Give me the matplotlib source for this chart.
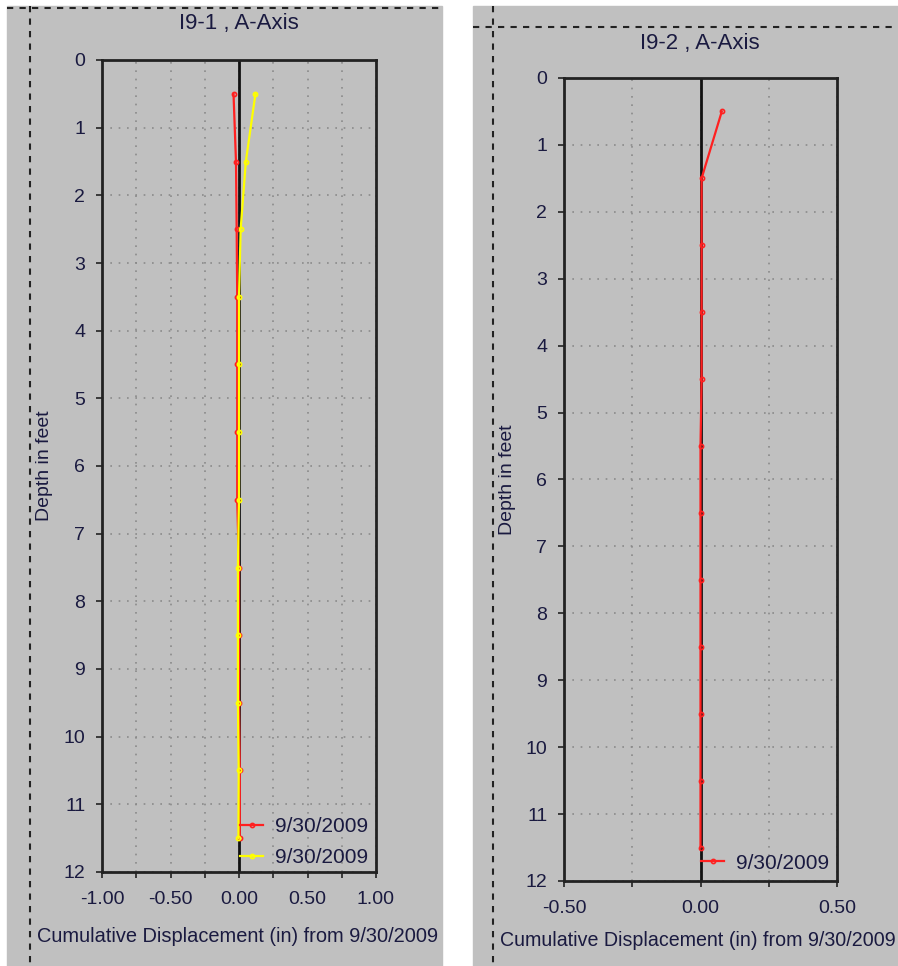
import matplotlib
matplotlib.use("Agg")
import matplotlib.pyplot as plt
from matplotlib.patches import Rectangle
from matplotlib.lines import Line2D

plt.rcParams['font.family'] = ['Liberation Sans', 'DejaVu Sans']

# data
depths = [0.5, 1.5, 2.5, 3.5, 4.5, 5.5, 6.5, 7.5, 8.5, 9.5, 10.5, 11.5]
i91_red = [-0.04, -0.022, -0.017, -0.013, -0.013, -0.013, -0.013, 0.0, 0.0, 0.0, 0.006, 0.006]
i91_yellow = [0.12, 0.05, 0.012, 0.0, 0.0, 0.0, 0.0, -0.008, -0.008, -0.008, -0.002, -0.004]
i92_red = [0.078, 0.004, 0.004, 0.004, 0.004, 0.0, 0.0, 0.0, 0.0, 0.0, 0.0, 0.0]
legend_date = "9/30/2009"
xlabel = "Cumulative Displacement (in) from 9/30/2009"

W, H = 898, 966
fig = plt.figure(figsize=(W / 100, H / 100), dpi=100)
fig.patch.set_facecolor("white")
FS = 14
TXT = "#1a1a40"


def fx(px):
    return px / W


def fy(py):
    return 1 - py / H


def panel(x0, x1, y0, hy, vx):
    fig.patches.append(Rectangle((fx(x0), 0), fx(x1 - x0), fy(y0),
                                 transform=fig.transFigure, color="#c0c0c0", zorder=-10))
    fig.lines.append(Line2D([fx(x0), fx(x1)], [fy(hy), fy(hy)], transform=fig.transFigure,
                            color="#222222", lw=1.5, ls=(0, (3, 3)), zorder=-5))
    fig.lines.append(Line2D([fx(vx), fx(vx)], [fy(y0), 0], transform=fig.transFigure,
                            color="#222222", lw=1.5, ls=(0, (3, 3)), zorder=-5))


panel(7, 442, 6, 8, 30)
panel(473, 898, 6, 27, 493)


def setup(ax, xmax, minor):
    ax.set_facecolor("#c0c0c0")
    ax.set_xlim(-xmax, xmax)
    ax.set_ylim(12, 0)
    ax.set_yticks(range(13))
    ticks = [round(-xmax + i * 0.5, 2) for i in range(int(2 * xmax / 0.5) + 1)]
    ax.set_xticks(ticks)
    ax.set_xticklabels(["%.2f" % t for t in ticks])
    ax.set_xticks(minor, minor=True)
    ax.tick_params(which="both", direction="out", length=4, width=1.2, colors="#222222",
                   labelcolor=TXT, labelsize=FS)
    ax.tick_params(axis="y", pad=8)
    ax.tick_params(axis="x", pad=10)
    for s in ax.spines.values():
        s.set_linewidth(2)
        s.set_color("#222222")
    ax.grid(True, which="both", color="#8a8a8a", ls=(0, (1, 4)), lw=1.2)
    ax.axvline(0, color="#111111", lw=2, zorder=2)
    ax.set_ylabel("Depth in feet", fontsize=FS, color=TXT)


ax1 = fig.add_axes([fx(102), fy(872), fx(376 - 102), (872 - 60) / H])
setup(ax1, 1.0, [-0.75, -0.25, 0.25, 0.75])
ax1.plot(i91_red, depths, color="#ff2020", lw=1.6, marker="o", ms=3, mfc="none",
         mew=1.2, label=legend_date, zorder=3)
ax1.plot(i91_yellow, depths, color="#ffff00", lw=1.6, marker="o", ms=3, mfc="none",
         mew=1.2, label=legend_date, zorder=3)
ax1.yaxis.set_label_coords(-0.18, 0.5)
fig.text(fx(239), fy(24), "I9-1 , A-Axis", ha="center", va="center", fontsize=16, color=TXT)
fig.text(fx(37), fy(936), xlabel, ha="left", va="center", fontsize=14.4, color=TXT)
ax1.legend(loc="lower right", bbox_to_anchor=(1.0, -0.004), frameon=False, fontsize=15,
           handlelength=1.1, numpoints=1, labelcolor=TXT, borderaxespad=0,
           labelspacing=0.55, handletextpad=0.55)

ax2 = fig.add_axes([fx(564), fy(881), fx(837 - 564), (881 - 78) / H])
setup(ax2, 0.5, [-0.25, 0.25])
ax2.plot(i92_red, depths, color="#ff2020", lw=1.6, marker="o", ms=3, mfc="none",
         mew=1.2, label=legend_date, zorder=3)
ax2.yaxis.set_label_coords(-0.176, 0.5)
fig.text(fx(700), fy(43), "I9-2 , A-Axis", ha="center", va="center", fontsize=16, color=TXT)
fig.text(fx(500), fy(941), xlabel, ha="left", va="center", fontsize=14.1, color=TXT)
ax2.legend(loc="lower right", bbox_to_anchor=(1.0, 0.0), frameon=False, fontsize=15,
           handlelength=1.1, numpoints=1, labelcolor=TXT, borderaxespad=0,
           handletextpad=0.55)

fig.savefig("out.png", dpi=100, facecolor=fig.get_facecolor())
